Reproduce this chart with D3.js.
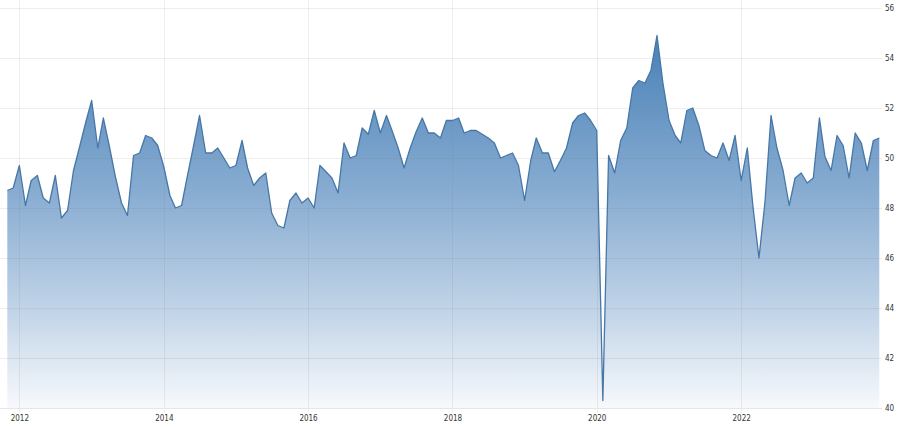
<!DOCTYPE html>
<html>
<head>
<meta charset="utf-8">
<script src="https://cdn.jsdelivr.net/npm/d3@7"></script>
<style>
  html, body { margin: 0; padding: 0; background: #fff; }
  svg text { font-family: "Liberation Sans Narrow", "DejaVu Sans Condensed", sans-serif; font-size: 8px; fill: #333; }
</style>
</head>
<body>
<svg id="chart" width="900" height="427"></svg>
<script>
// ---- DATA (monthly, Nov 2011 .. Dec 2023) ----
const START_MONTH = "2011-11";
const values = [
  48.7, 48.8, 49.7, 48.1, 49.1, 49.3, 48.4, 48.2, 49.3, 47.6, 47.9, 49.5,
  50.45, 51.4, 52.3, 50.4, 51.6, 50.45, 49.25, 48.2, 47.7, 50.1, 50.2, 50.9,
  50.8, 50.5, 49.65, 48.5, 48.0, 48.1, 49.3, 50.5, 51.7, 50.2, 50.2, 50.4,
  50.0, 49.6, 49.7, 50.7, 49.6, 48.9, 49.2, 49.4, 47.8, 47.3, 47.2, 48.3,
  48.6, 48.2, 48.4, 48.0, 49.7, 49.45, 49.2, 48.6, 50.6, 50.0, 50.1, 51.2,
  50.95, 51.9, 51.0, 51.7, 51.1, 50.4, 49.6, 50.4, 51.05, 51.6, 51.0, 51.0,
  50.8, 51.5, 51.5, 51.6, 51.0, 51.1, 51.1, 50.95, 50.8, 50.6, 50.0, 50.1,
  50.2, 49.7, 48.3, 49.9, 50.8, 50.2, 50.2, 49.45, 49.9, 50.4, 51.4, 51.7,
  51.8, 51.5, 51.1, 40.3, 50.1, 49.4, 50.7, 51.2, 52.8, 53.1, 53.0, 53.5,
  54.9, 53.0, 51.5, 50.9, 50.6, 51.9, 52.0, 51.3, 50.3, 50.1, 50.0, 50.6,
  49.9, 50.9, 49.1, 50.4, 48.1, 46.0, 48.2, 51.7, 50.4, 49.5, 48.1, 49.2,
  49.4, 49.0, 49.2, 51.6, 50.05, 49.5, 50.9, 50.5, 49.2, 51.0, 50.6, 49.5,
  50.7, 50.8
];
const yTicks = [40, 42, 44, 46, 48, 50, 52, 54, 56];
const xTickYears = [2012, 2014, 2016, 2018, 2020, 2022];

// ---- BUILD ----
const parseMonth = d3.timeParse("%Y-%m");
const t0 = parseMonth(START_MONTH);
const data = values.map((v, i) => ({ date: d3.timeMonth.offset(t0, i), value: v }));

const svg = d3.select("#chart");
const plotLeft = 0, plotRight = 882, plotTop = 8, plotBottom = 408;

const x = d3.scaleTime()
  .domain([data[0].date, data[data.length - 1].date])
  .range([7.3, 879.3]);
const y = d3.scaleLinear().domain([40, 56]).range([plotBottom, plotTop]);

// gradient fill
const defs = svg.append("defs");
const grad = defs.append("linearGradient")
  .attr("id", "areaGrad")
  .attr("gradientUnits", "userSpaceOnUse")
  .attr("x1", 0).attr("x2", 0)
  .attr("y1", y(55)).attr("y2", y(40));
grad.append("stop").attr("offset", "0%").attr("stop-color", "#4880b7");
grad.append("stop").attr("offset", "45%").attr("stop-color", "#8cafd3");
grad.append("stop").attr("offset", "75%").attr("stop-color", "#c3d5e8");
grad.append("stop").attr("offset", "100%").attr("stop-color", "#f7f9fc");

const area = d3.area()
  .x(d => x(d.date))
  .y0(y(40))
  .y1(d => y(d.value));
const line = d3.line()
  .x(d => x(d.date))
  .y(d => y(d.value));

svg.append("path")
  .datum(data)
  .attr("d", area)
  .attr("fill", "url(#areaGrad)");

// gridlines (drawn over the area, faint)
const grid = svg.append("g");
grid.selectAll("line.h")
  .data(yTicks)
  .enter().append("line")
  .attr("class", "h")
  .attr("x1", plotLeft).attr("x2", plotRight)
  .attr("y1", d => y(d) + 0.5).attr("y2", d => y(d) + 0.5)
  .attr("stroke", "#7a7a7a")
  .attr("stroke-opacity", 0.13)
  .attr("stroke-width", 1);

const yearDates = xTickYears.map(yr => new Date(yr, 0, 1));
grid.selectAll("line.v")
  .data(yearDates)
  .enter().append("line")
  .attr("class", "v")
  .attr("x1", d => Math.round(x(d)) + 0.5).attr("x2", d => Math.round(x(d)) + 0.5)
  .attr("y1", 0).attr("y2", plotBottom + 5)
  .attr("stroke", "#7a7a7a")
  .attr("stroke-opacity", 0.13)
  .attr("stroke-width", 1);

svg.append("path")
  .datum(data)
  .attr("d", line)
  .attr("fill", "none")
  .attr("stroke", "#4677a6")
  .attr("stroke-width", 1.3)
  .attr("stroke-linejoin", "round");

// baseline
svg.append("line")
  .attr("x1", plotLeft).attr("x2", plotRight)
  .attr("y1", plotBottom + 0.5).attr("y2", plotBottom + 0.5)
  .attr("stroke", "#e6e6e6");

// right axis labels
const yAxis = d3.axisRight(y).tickValues(yTicks).tickSize(0).tickPadding(0);
const gy = svg.append("g").attr("transform", `translate(${plotRight + 3},0)`).call(yAxis);
gy.select(".domain").remove();
gy.selectAll("text").attr("dy", "0.32em");

// bottom axis labels
const xAxis = d3.axisBottom(x).tickValues(yearDates).tickFormat(d3.timeFormat("%Y")).tickSize(0).tickPadding(0);
const gx = svg.append("g").attr("transform", `translate(0,${plotBottom + 7})`).call(xAxis);
gx.select(".domain").remove();
gx.selectAll("text").attr("dy", "0.71em");
</script>
</body>
</html>
